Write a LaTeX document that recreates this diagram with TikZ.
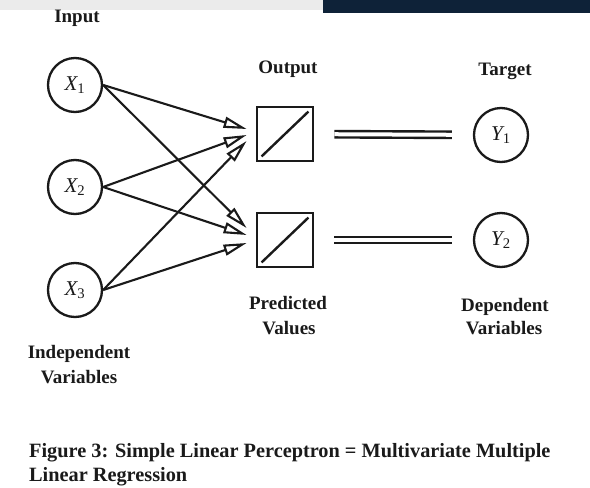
\documentclass[tikz,border=0pt]{standalone}
\usepackage{fontspec}
\setmainfont{Liberation Serif}
\usetikzlibrary{arrows.meta,calc}
\definecolor{topbar}{HTML}{0E2238}
\definecolor{ink}{HTML}{1A1A1A}
\begin{document}
\begin{tikzpicture}[x=1pt,y=-1pt,
  inp/.style={circle,draw=ink,line width=2.3pt,minimum size=54pt,inner sep=0pt,text=ink,font=\fontsize{21}{22}\selectfont\itshape},
  unitbox/.style={rectangle,draw=ink,line width=2.8pt,minimum width=56pt,minimum height=54pt,inner sep=0pt},
  lab/.style={font=\fontsize{19}{25}\selectfont\bfseries,text=ink,inner sep=0pt,anchor=base},
  figcap/.style={font=\fontsize{20.3}{24}\selectfont\bfseries,text=ink,inner sep=0pt,anchor=base west},
  feed/.style={draw=ink,line width=2.1pt,-{Triangle[open,length=23pt,width=11pt,line width=2.1pt]}},
  link/.style={draw=ink,double=white,line width=2.4pt,double distance=4pt,shorten <=20pt,shorten >=21pt}]
\useasboundingbox (0,0) rectangle (590,488);
\fill[white] (0,0) rectangle (590,488);
\fill[black!8] (0,0) rectangle (323,10);
\fill[topbar] (323,0) rectangle (590,13);
% inputs
\node[inp] (x1) at (75,85) {X\textsubscript{\upshape 1}};
\node[inp] (x2) at (75,187) {X\textsubscript{\upshape 2}};
\node[inp] (x3) at (75,290) {X\textsubscript{\upshape 3}};
% output units
\node[unitbox] (o1) at (285,134) {};
\node[unitbox] (o2) at (285,240) {};
\draw[ink,line width=2.4pt] ($(o1.south west)+(6,-6)$) -- ($(o1.north east)+(-6,6)$);
\draw[ink,line width=2.4pt] ($(o2.south west)+(6,-6)$) -- ($(o2.north east)+(-6,6)$);
% targets
\node[inp] (y1) at (501,135) {Y\textsubscript{\upshape 1}};
\node[inp] (y2) at (501,240) {Y\textsubscript{\upshape 2}};
% arrow end points
\coordinate (a11) at ($(o1.west)+(-9,-5)$);
\coordinate (a21) at ($(o1.west)+(-9,1)$);
\coordinate (a31) at ($(o1.west)+(-9,7)$);
\coordinate (a12) at ($(o2.west)+(-9,-12)$);
\coordinate (a22) at ($(o2.west)+(-9,-5)$);
\coordinate (a32) at ($(o2.west)+(-9,3)$);
\draw[feed] (x1.east) -- (a11);
\draw[feed] (x1.east) -- (a12);
\draw[feed] (x2.east) -- (a21);
\draw[feed] (x2.east) -- (a22);
\draw[feed] (x3.east) -- (a31);
\draw[feed] (x3.east) -- (a32);
% double links
\draw[link] (o1) -- (y1);
\draw[link] (o2) -- (y2);
% labels
\node[lab] (tin) at (77,22) {Input};
\node[lab] (tout) at (288,73) {Output};
\node[lab] (ttar) at (505,75) {Target};
\node[lab] (tpa) at (288,309) {Predicted};
\node[lab] (tpb) at (289,334) {Values};
\node[lab] (tda) at (505,311) {Dependent};
\node[lab] (tdb) at (504,334) {Variables};
\node[lab] (tia) at (79,358) {Independent};
\node[lab] (tib) at (79,383) {Variables};
\node[figcap] (cap1) at (29,457) {Figure 3: Simple Linear Perceptron = Multivariate Multiple};
\node[figcap] (cap2) at (29,481) {Linear Regression};
\end{tikzpicture}
\end{document}
